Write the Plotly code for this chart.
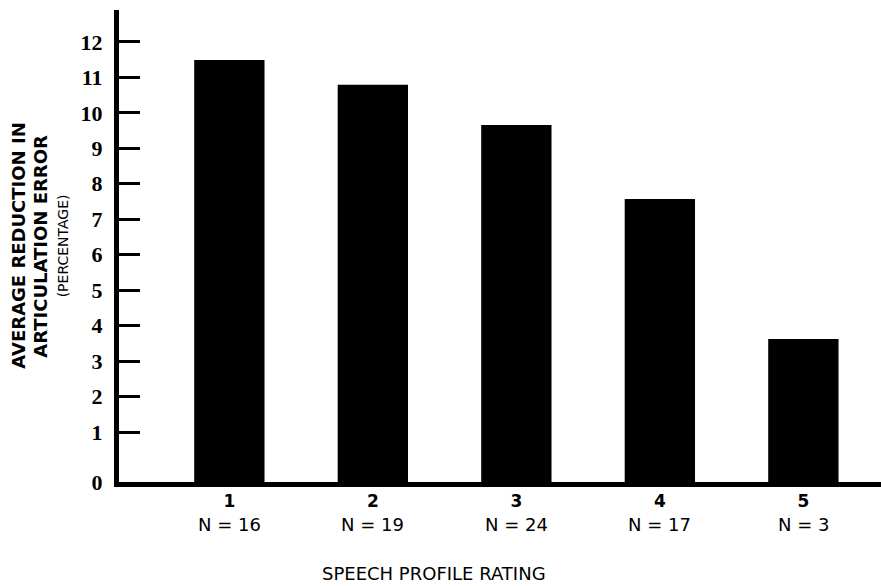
import plotly.graph_objects as go

# ---- data ----
ratings = ["1", "2", "3", "4", "5"]
reduction_pct = [11.49, 10.79, 9.66, 7.57, 3.62]
n_counts = [16, 19, 24, 17, 3]
y_tick_values = [1, 2, 3, 4, 5, 6, 7, 8, 9, 10, 11, 12]
y_tick_labels = ["1", "2", "3", "4", "5", "6", "7", "8", "9", "10", "11", "12"]

# axis floor (the "0" baseline drawn a little below the evenly spaced ticks)
Y_FLOOR = -0.41
Y_TOP = 12.9

SANS = "DejaVu Sans"
SERIF = "Liberation Serif"

fig = go.Figure()
fig.add_trace(go.Bar(
    x=ratings,
    y=[v - Y_FLOOR for v in reduction_pct],
    base=Y_FLOOR,
    marker=dict(color="black", line=dict(width=0)),
    width=0.49,
    hoverinfo="skip",
))

annotations = []
for i, n in enumerate(n_counts):
    annotations.append(dict(
        x=i, xref="x", y=-0.089, yref="paper", text=f"N = {n}",
        showarrow=False, xanchor="center", yanchor="middle",
        font=dict(family=SANS, size=18, color="black"),
    ))

annotations += [
    dict(x=-0.133, y=0.5, xref="paper", yref="paper", text="AVERAGE REDUCTION IN",
         textangle=-90, showarrow=False, xanchor="center", yanchor="middle",
         font=dict(family=SANS, size=18, color="black", weight="bold")),
    dict(x=-0.104, y=0.5, xref="paper", yref="paper", text="ARTICULATION ERROR",
         textangle=-90, showarrow=False, xanchor="center", yanchor="middle",
         font=dict(family=SANS, size=18, color="black", weight="bold")),
    dict(x=-0.073, y=0.5, xref="paper", yref="paper", text="(PERCENTAGE)",
         textangle=-90, showarrow=False, xanchor="center", yanchor="middle",
         font=dict(family=SANS, size=14, color="black")),
    dict(x=0.414, y=-0.193, xref="paper", yref="paper", text="SPEECH PROFILE RATING",
         showarrow=False, xanchor="center", yanchor="middle",
         font=dict(family=SANS, size=18, color="black")),
]

fig.update_layout(
    width=881, height=586,
    margin=dict(l=119, r=0, t=10, b=104, pad=0),
    paper_bgcolor="white", plot_bgcolor="white",
    showlegend=False,
    annotations=annotations,
    xaxis=dict(
        type="category",
        range=[-0.769, 4.541],
        showline=True, linecolor="black", linewidth=5,
        showgrid=False, zeroline=False,
        ticks="", ticklabelstandoff=0,
        tickfont=dict(family=SANS, size=17, color="black", weight="bold"),
        fixedrange=True,
    ),
    yaxis=dict(
        range=[Y_FLOOR, Y_TOP],
        tickmode="array",
        tickvals=[Y_FLOOR] + y_tick_values,
        ticktext=["0"] + y_tick_labels,
        showline=True, linecolor="black", linewidth=5,
        showgrid=False, zeroline=False,
        ticks="inside", ticklen=21, tickwidth=3, tickcolor="black",
        ticklabelstandoff=7,
        tickfont=dict(family=SERIF, size=22, color="black", weight="bold"),
        fixedrange=True,
    ),
)

fig.write_html(
    "out.html",
    config={"displayModeBar": False},
    post_script="document.body.style.margin='0';",
)
